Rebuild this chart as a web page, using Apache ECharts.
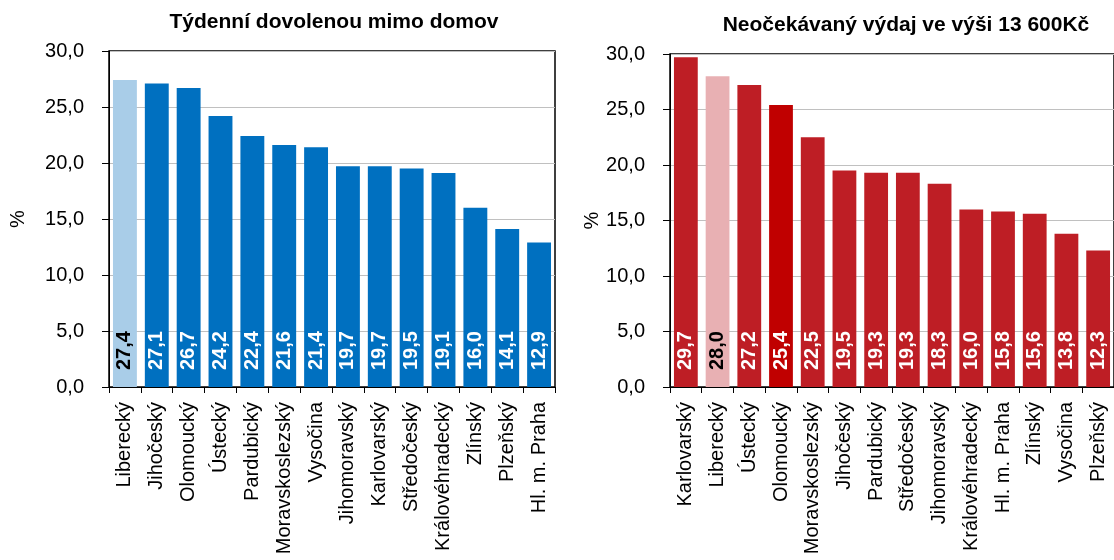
<!DOCTYPE html>
<html>
<head>
<meta charset="utf-8">
<script src="https://cdn.jsdelivr.net/npm/echarts@6/dist/echarts.min.js"></script>
<style>
  html, body { margin: 0; padding: 0; background: #fff; }
  #chart { width: 1114px; height: 560px; }
</style>
</head>
<body>
<div id="chart"></div>
<script>
// left panel
const leftTitle = 'Týdenní dovolenou mimo domov';
const leftRegions = ['Liberecký', 'Jihočeský', 'Olomoucký', 'Ústecký', 'Pardubický', 'Moravskoslezský', 'Vysočina',
  'Jihomoravský', 'Karlovarský', 'Středočeský', 'Královéhradecký', 'Zlínský', 'Plzeňský', 'Hl. m. Praha'];
const leftValues = [27.4, 27.1, 26.7, 24.2, 22.4, 21.6, 21.4, 19.7, 19.7, 19.5, 19.1, 16.0, 14.1, 12.9];

// right panel
const rightTitle = 'Neočekávaný výdaj ve výši 13 600Kč';
const rightRegions = ['Karlovarský', 'Liberecký', 'Ústecký', 'Olomoucký', 'Moravskoslezský', 'Jihočeský', 'Pardubický',
  'Středočeský', 'Jihomoravský', 'Královéhradecký', 'Hl. m. Praha', 'Zlínský', 'Vysočina', 'Plzeňský'];
const rightValues = [29.7, 28.0, 27.2, 25.4, 22.5, 19.5, 19.3, 19.3, 18.3, 16.0, 15.8, 15.6, 13.8, 12.3];

const yTicks = [0, 5, 10, 15, 20, 25, 30];

const FONT = 'Liberation Sans, Arial, sans-serif';
const fmt = v => Number(v).toFixed(1).replace('.', ',');

// highlighted regions get their own colour
function barData(regions, values, base, special) {
  return values.map((v, i) => {
    const s = special[regions[i]];
    return {
      value: v,
      itemStyle: { color: s ? s.color : base },
      label: { color: s ? s.text : '#fff' }
    };
  });
}

const leftData = barData(leftRegions, leftValues, '#0070c0', {
  'Liberecký': { color: '#a9cde8', text: '#000' }
});
const rightData = barData(rightRegions, rightValues, '#be1e25', {
  'Liberecký': { color: '#e8b0b3', text: '#000' },
  'Olomoucký': { color: '#c00000', text: '#fff' }
});

const grids = [
  { left: 109, top: 51, width: 446, height: 336 },
  { left: 670, top: 54, width: 449, height: 333 }
];

function xAxis(idx, cats) {
  return {
    type: 'category',
    gridIndex: idx,
    data: cats,
    axisLine: { lineStyle: { color: '#000', width: 1 } },
    axisTick: { show: true, length: 6, lineStyle: { color: '#000' } },
    axisLabel: { rotate: 90, fontSize: 20, color: '#000', fontFamily: FONT, margin: 15, interval: 0 }
  };
}

function yAxis(idx, gap) {
  return {
    type: 'value',
    gridIndex: idx,
    min: yTicks[0],
    max: yTicks[yTicks.length - 1],
    interval: yTicks[1] - yTicks[0],
    name: '%',
    nameLocation: 'middle',
    nameGap: gap,
    nameRotate: 90,
    nameTextStyle: { fontSize: 20, color: '#000', fontFamily: FONT },
    axisLine: { show: true, lineStyle: { color: '#000', width: 1 } },
    axisTick: { show: true, length: 7, lineStyle: { color: '#000' } },
    axisLabel: { fontSize: 20, color: '#000', fontFamily: FONT, margin: 25, formatter: fmt },
    splitLine: { show: true, lineStyle: { color: '#c0c0c0', width: 1 } }
  };
}

function barSeries(idx, data) {
  return {
    type: 'bar',
    xAxisIndex: idx,
    yAxisIndex: idx,
    data: data,
    barCategoryGap: '25%',
    label: {
      show: true,
      position: 'insideBottom',
      rotate: 90,
      align: 'left',
      verticalAlign: 'middle',
      distance: 17,
      fontSize: 20,
      fontWeight: 'bold',
      fontFamily: FONT,
      formatter: p => fmt(p.value)
    }
  };
}

const chart = echarts.init(document.getElementById('chart'), null, { renderer: 'canvas' });
chart.setOption({
  animation: false,
  backgroundColor: '#fff',
  title: [
    { text: leftTitle, left: 329, top: 7, textAlign: 'center',
      textStyle: { fontSize: 21, fontWeight: 'bold', color: '#000', fontFamily: FONT } },
    { text: rightTitle, left: 901, top: 10, textAlign: 'center',
      textStyle: { fontSize: 21, fontWeight: 'bold', color: '#000', fontFamily: FONT } }
  ],
  grid: grids.map(g => Object.assign({ show: true, borderColor: '#000', borderWidth: 1.5, backgroundColor: 'transparent' }, g)),
  xAxis: [xAxis(0, leftRegions), xAxis(1, rightRegions)],
  yAxis: [yAxis(0, 81), yAxis(1, 64)],
  series: [barSeries(0, leftData), barSeries(1, rightData)]
});
</script>
</body>
</html>
